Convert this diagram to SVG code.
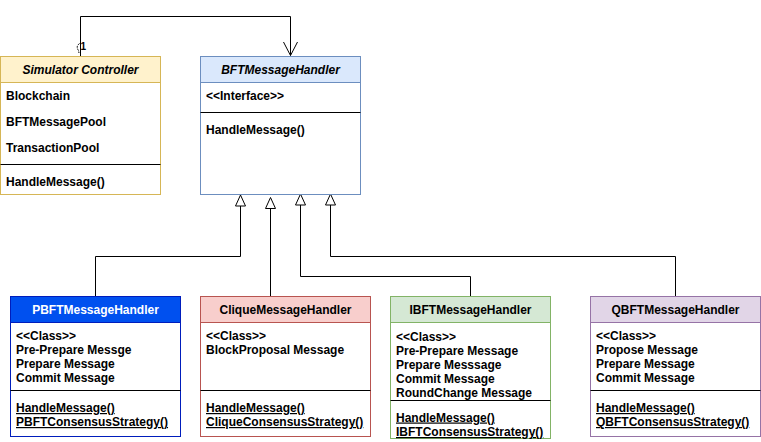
<svg xmlns="http://www.w3.org/2000/svg" width="761" height="442" viewBox="0 0 761 442">
<style>
text{font-family:"Liberation Sans",Arial,Helvetica,sans-serif;font-size:12px;font-weight:bold;fill:#000}
.h{text-anchor:middle}
.i{font-style:italic}
.w{fill:#fff}
.u{text-decoration:underline}
.div{stroke:#000;stroke-width:1}
.ln{fill:none;stroke:#000;stroke-width:1}
.tri{fill:#fff;stroke:#000;stroke-width:1}
</style>
<rect width="761" height="442" fill="#fff"/>
<g id="connectors">
  <path class="ln" d="M80.5 56 V16.5 H290.5 V55.5"/>
  <polyline class="ln" points="283.5,42 290.5,55.5 297.5,42"/>
  <path class="ln" d="M79.5 43.5 Q75.5 46.5 78.5 50.5 L79 53" stroke-dasharray="2,1"/>
  <text x="80.5" y="49.5" style="font-size:10px">1</text>
  <path class="ln" d="M95.5 296 V256.5 H240.5 V206"/>
  <polygon class="tri" points="240.5,195 235.5,206 245.5,206"/>
  <path class="ln" d="M270.5 296 V208.5"/>
  <polygon class="tri" points="270.5,197.5 265.5,208.5 275.5,208.5"/>
  <path class="ln" d="M470.5 296 V276.5 H300.5 V205"/>
  <polygon class="tri" points="300.5,194 295.5,205 305.5,205"/>
  <path class="ln" d="M675.5 296 V256.5 H330.5 V205"/>
  <polygon class="tri" points="330.5,194 325.5,205 335.5,205"/>
</g>
<g id="simulator-controller">
  <rect x="0.5" y="56.5" width="160" height="138" fill="#fff" stroke="#d6b656"/>
  <rect x="0.5" y="56.5" width="160" height="26" fill="#fff2cc" stroke="#d6b656"/>
  <text class="h i" x="80.5" y="73.5">Simulator Controller</text>
  <text x="6" y="100">Blockchain</text>
  <text x="6" y="126">BFTMessagePool</text>
  <text x="6" y="151.5">TransactionPool</text>
  <line class="div" x1="0.5" y1="164.5" x2="160.5" y2="164.5"/>
  <text x="6" y="186">HandleMessage()</text>
</g>
<g id="bft-message-handler">
  <rect x="200.5" y="56.5" width="160" height="138" fill="#fff" stroke="#6c8ebf"/>
  <rect x="200.5" y="56.5" width="160" height="26" fill="#dae8fc" stroke="#6c8ebf"/>
  <text class="h i" x="280.5" y="73.5">BFTMessageHandler</text>
  <text x="206" y="100">&lt;&lt;Interface&gt;&gt;</text>
  <line class="div" x1="200.5" y1="112.5" x2="360.5" y2="112.5"/>
  <text x="206" y="133.5">HandleMessage()</text>
</g>
<g id="pbft-message-handler">
  <rect x="10.5" y="296.5" width="170" height="140" fill="#fff" stroke="#001dbc"/>
  <rect x="10.5" y="296.5" width="170" height="26" fill="#0050ef" stroke="#001dbc"/>
  <text class="h w" x="95.5" y="314">PBFTMessageHandler</text>
  <text x="16" y="340">&lt;&lt;Class&gt;&gt;</text>
  <text x="16" y="354">Pre-Prepare Messge</text>
  <text x="16" y="368">Prepare Message</text>
  <text x="16" y="382">Commit Message</text>
  <line class="div" x1="10.5" y1="390.5" x2="180.5" y2="390.5"/>
  <text class="u" x="16" y="412">HandleMessage()</text>
  <text class="u" x="16" y="426">PBFTConsensusStrategy()</text>
</g>
<g id="clique-message-handler">
  <rect x="200.5" y="296.5" width="170" height="140" fill="#fff" stroke="#b85450"/>
  <rect x="200.5" y="296.5" width="170" height="26" fill="#f8cecc" stroke="#b85450"/>
  <text class="h" x="285.5" y="314">CliqueMessageHandler</text>
  <text x="206" y="340">&lt;&lt;Class&gt;&gt;</text>
  <text x="206" y="354">BlockProposal Message</text>
  <line class="div" x1="200.5" y1="390.5" x2="370.5" y2="390.5"/>
  <text class="u" x="206" y="412">HandleMessage()</text>
  <text class="u" x="206" y="426">CliqueConsensusStrategy()</text>
</g>
<g id="ibft-message-handler">
  <rect x="390.5" y="296.5" width="160" height="142" fill="#fff" stroke="#82b366"/>
  <rect x="390.5" y="296.5" width="160" height="26" fill="#d5e8d4" stroke="#82b366"/>
  <text class="h" x="470.5" y="314">IBFTMessageHandler</text>
  <text x="396" y="341">&lt;&lt;Class&gt;&gt;</text>
  <text x="396" y="354.5">Pre-Prepare Message</text>
  <text x="396" y="368.5">Prepare Messsage</text>
  <text x="396" y="382.5">Commit Message</text>
  <text x="396" y="396.5">RoundChange Message</text>
  <line class="div" x1="390.5" y1="400.5" x2="550.5" y2="400.5"/>
  <text class="u" x="396" y="421.5">HandleMessage()</text>
  <text class="u" x="396" y="436">IBFTConsensusStrategy()</text>
</g>
<g id="qbft-message-handler">
  <rect x="590.5" y="296.5" width="170" height="140" fill="#fff" stroke="#9673a6"/>
  <rect x="590.5" y="296.5" width="170" height="26" fill="#e1d5e7" stroke="#9673a6"/>
  <text class="h" x="675.5" y="314">QBFTMessageHandler</text>
  <text x="596" y="340">&lt;&lt;Class&gt;&gt;</text>
  <text x="596" y="354">Propose Message</text>
  <text x="596" y="368">Prepare Message</text>
  <text x="596" y="382">Commit Message</text>
  <line class="div" x1="590.5" y1="390.5" x2="760.5" y2="390.5"/>
  <text class="u" x="596" y="412">HandleMessage()</text>
  <text class="u" x="596" y="426">QBFTConsensusStrategy()</text>
</g>
</svg>
